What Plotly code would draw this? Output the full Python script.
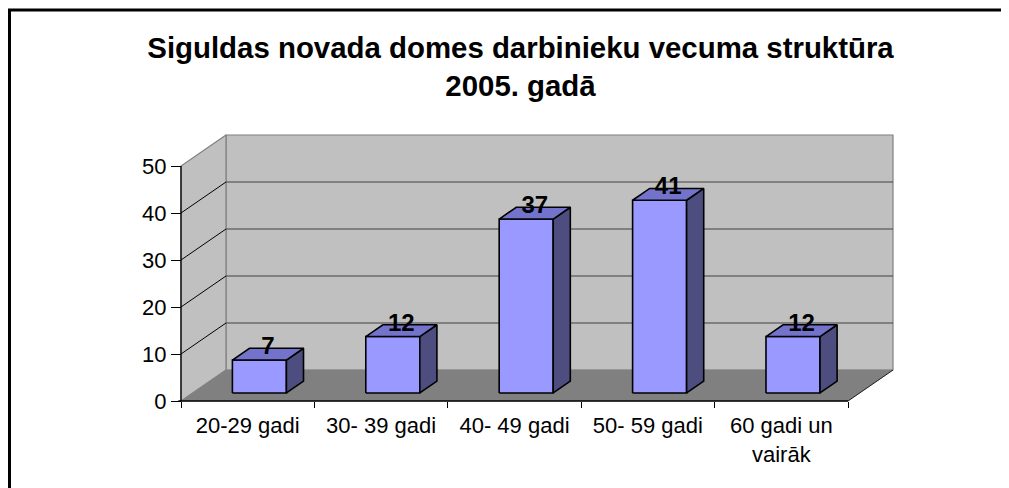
import plotly.graph_objects as go

# ---- data ----
categories = ["20-29 gadi", "30- 39 gadi", "40- 49 gadi", "50- 59 gadi", "60 gadi un<br>vairāk"]
values = [7, 12, 37, 41, 12]
y_ticks = [0, 10, 20, 30, 40, 50]
title_text = "Siguldas novada domes darbinieku vecuma struktūra<br>2005. gadā"

# ---- pseudo-3D geometry (in data units) ----
PX_X = 133.4          # px per category
PX_Y = 4.7            # px per value unit
DX = 45 / PX_X        # depth offset in x units
DY = 31 / PX_Y        # depth offset in y units
BW = 0.405            # bar width (category units)
D0, D1 = 0.26, 0.64   # bar depth span (fraction of wall depth)
LABEL_LIFT = 6 / PX_Y # label centre above top-face centre
YMAX = y_ticks[-1]
n = len(categories)
X0, X1 = -0.5, n - 0.5

FONT = "Liberation Sans, Arial, sans-serif"
WALL = "#c0c0c0"
WALL_EDGE = "#808080"
FLOOR = "#808080"
FRONT = "#9999ff"
TOP = "#7373cc"
SIDE = "#4d4d80"

fig = go.Figure()


def poly(xs, ys, fill, line_color, lw):
    fig.add_trace(go.Scatter(
        x=list(xs) + [xs[0]], y=list(ys) + [ys[0]], mode="lines",
        fill="toself", fillcolor=fill,
        line=dict(color=line_color, width=lw),
        hoverinfo="skip", showlegend=False))


def seg(xs, ys, color, lw):
    fig.add_trace(go.Scatter(x=xs, y=ys, mode="lines",
                             line=dict(color=color, width=lw),
                             hoverinfo="skip", showlegend=False))


# back wall
poly([X0 + DX, X1 + DX, X1 + DX, X0 + DX], [DY, DY, YMAX + DY, YMAX + DY], WALL, WALL_EDGE, 1.2)
# left wall
poly([X0, X0 + DX, X0 + DX, X0], [0, DY, YMAX + DY, YMAX], WALL, WALL_EDGE, 1.2)
# floor
poly([X0, X1, X1 + DX, X0 + DX], [0, 0, DY, DY], FLOOR, FLOOR, 0.5)
seg([X1, X1 + DX], [0, DY], "#202020", 1)

# gridlines
for v in y_ticks[1:-1]:
    seg([X0 + DX, X1 + DX], [v + DY, v + DY], "#404040", 1)
    seg([X0, X0 + DX], [v, v + DY], "#000000", 1)

# bars
ddx = (D1 - D0) * DX
ddy = (D1 - D0) * DY
lab_x, lab_y = [], []
for i, v in enumerate(values):
    xl = i - BW / 2 + D0 * DX
    xr = xl + BW
    yb = D0 * DY
    yt = v + D0 * DY
    poly([xl, xr, xr, xl], [yb, yb, yt, yt], FRONT, "black", 1.6)
    poly([xr, xr + ddx, xr + ddx, xr], [yb, yb + ddy, yt + ddy, yt], SIDE, "black", 1.6)
    poly([xl, xr, xr + ddx, xl + ddx], [yt, yt, yt + ddy, yt + ddy], TOP, "black", 1.6)
    lab_x.append(xl + BW / 2 + ddx / 2)
    lab_y.append(yt + ddy / 2 + LABEL_LIFT)

# front axis lines
seg([X0, X0], [0, YMAX], "black", 1.3)
seg([X0 - 0.02, X1], [0, 0], "black", 1.3)

# data labels
fig.add_trace(go.Scatter(
    x=lab_x, y=lab_y, mode="text", text=[str(v) for v in values],
    textposition="middle center",
    textfont=dict(family=FONT, size=24, color="black", weight="bold"),
    hoverinfo="skip", showlegend=False, cliponaxis=False))

# ---- layout (page has an 8px body margin; work in screen px, convert) ----
OFF = 8
W, H = 1009 - OFF, 488 - OFF
L = 150 - OFF
T = 130 - OFF
R = W - (900 - OFF)
B = H - (405 - OFF)
plot_w = W - L - R
plot_h = H - T - B
x_left_px = 181 - OFF
y_zero_px = 401 - OFF
xr0 = X0 - (x_left_px - L) / PX_X
xr1 = xr0 + plot_w / PX_X
yr0 = -((H - B) - y_zero_px) / PX_Y
yr1 = yr0 + plot_h / PX_Y

fig.update_layout(
    width=W, height=H,
    margin=dict(l=L, r=R, t=T, b=B),
    paper_bgcolor="white", plot_bgcolor="white",
    showlegend=False, hovermode=False,
    title=dict(text=title_text, x=(520.5 - OFF) / W, xref="container", xanchor="center",
               y=1 - 49.5 / H, yref="container", yanchor="middle",
               font=dict(family=FONT, size=29.4, color="black", weight="bold")),
    xaxis=dict(range=[xr0, xr1], showgrid=False, zeroline=False, showline=False,
               anchor="free", position=((H - B) - y_zero_px) / plot_h,
               tickmode="array", tickvals=list(range(n)), ticktext=categories,
               ticks="outside", ticklen=5, tickcolor="rgba(0,0,0,0)",
               tickfont=dict(family=FONT, size=22, color="black"),
               minor=dict(tickmode="array", tickvals=[k - 0.5 for k in range(n + 1)],
                          ticks="outside", ticklen=6, tickcolor="black", tickwidth=1,
                          showgrid=False),
               fixedrange=True),
    yaxis=dict(range=[yr0, yr1], showgrid=False, zeroline=False, showline=False,
               anchor="free", position=(x_left_px - L) / plot_w,
               tickmode="array", tickvals=y_ticks,
               ticks="outside", ticklen=10, tickcolor="black", tickwidth=1,
               tickfont=dict(family=FONT, size=22, color="black"),
               fixedrange=True),
    shapes=[dict(type="rect", xref="paper", yref="paper",
                 x0=(1.5 - L) / plot_w, x1=(W + 20 - L) / plot_w,
                 y0=((H - B) - (H + 20)) / plot_h, y1=((H - B) - 2) / plot_h,
                 line=dict(color="black", width=3), fillcolor="rgba(0,0,0,0)",
                 layer="above")],
)

fig.write_html("out.html")
